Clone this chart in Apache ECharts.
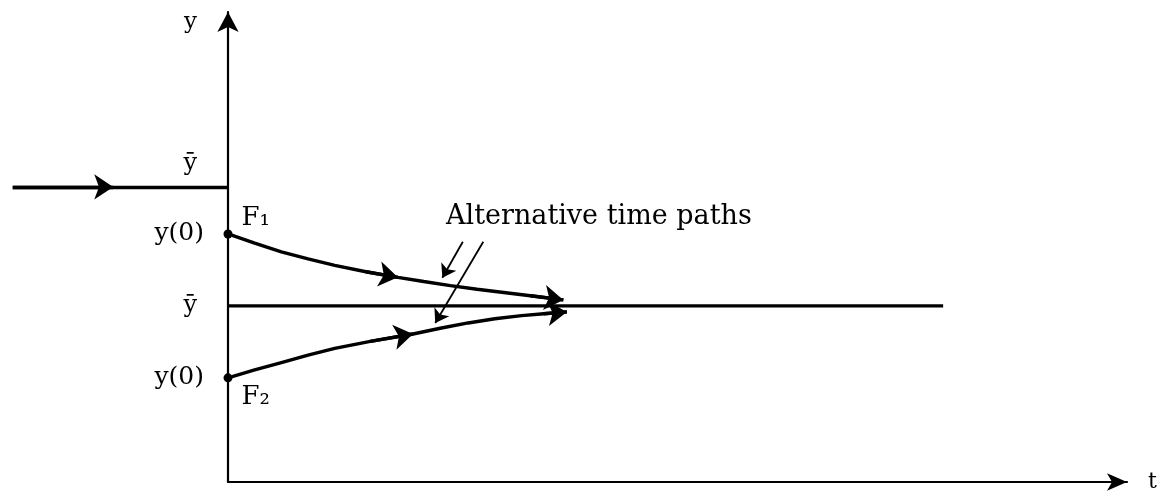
<!DOCTYPE html>
<html><head><meta charset="utf-8">
<script src="https://cdn.jsdelivr.net/npm/echarts@6/dist/echarts.min.js"></script>
<style>html,body{margin:0;padding:0;background:#fff}#c{width:1158px;height:492px}</style>
</head><body><div id="c"></div>
<script>
// ---- data (t, y) ----
const tickValues = [6.40, 5.38, 3.82, 2.26];
const tickLabels = ['ȳ', 'y(0)', 'ȳ', 'y(0)'];
const oldPath = [[-2.42, 6.40], [-1.29, 6.40], [0, 6.40]];
const oldArrowAt = [1];
const newEquilibrium = [[0, 3.82], [8.04, 3.82]];
const upperPath = [[0, 5.38], [0.3, 5.18], [0.6, 4.99], [0.9, 4.84], [1.2, 4.70], [1.55, 4.56], [1.91, 4.44],
                   [2.2, 4.35], [2.5, 4.26], [2.8, 4.18], [3.1, 4.11], [3.4, 4.04], [3.77, 3.95]];
const upperArrowAt = [6, 12];
const lowerPath = [[0, 2.26], [0.3, 2.43], [0.6, 2.59], [0.9, 2.75], [1.2, 2.90], [1.6, 3.05], [2.08, 3.21],
                   [2.4, 3.34], [2.7, 3.45], [3.0, 3.54], [3.3, 3.61], [3.55, 3.65], [3.81, 3.69]];
const lowerArrowAt = [6, 12];
const pointerA = [[2.64, 5.21], [2.41, 4.43]];
const pointerB = [[2.87, 5.21], [2.33, 3.45]];
const startPoints = [[0, 5.38], [0, 2.26]];
const startLabels = ['F₁', 'F₂'];
const annotationPos = [4.17, 5.75];
const annotationText = 'Alternative time paths';
const axisNames = { x: 't', y: 'y' };
const xRange = [0, 10.107];
const yRange = [0, 10.195];

const FONT = 'DejaVu Serif';
const INK = '#000';
const PATH_STYLE = { color: INK, width: 3.4, opacity: 1, type: 'solid' };

function arrowSegs(path, idxs) {
  return idxs.map(i => ({ coords: [path[i - 1], path[i]] }));
}
function pathSeries(path, clip) {
  return {
    type: 'line', data: path, symbol: 'none', showSymbol: false, clip: clip, z: 3, silent: true,
    lineStyle: PATH_STYLE, emphasis: { disabled: true }
  };
}

const chart = echarts.init(document.getElementById('c'), null, { renderer: 'canvas' });
chart.setOption({
  animation: false,
  backgroundColor: '#fff',
  grid: { left: 228, right: 31, top: 12, bottom: 10, containLabel: false, outerBoundsMode: 'none' },
  xAxis: {
    type: 'value', min: xRange[0], max: xRange[1],
    name: axisNames.x, nameLocation: 'end', nameGap: 21,
    nameTextStyle: { fontFamily: FONT, fontSize: 22, color: INK, align: 'left', verticalAlign: 'middle' },
    axisLine: { show: true, onZero: false, symbol: ['none', 'arrow'], symbolSize: [13, 20], lineStyle: { color: INK, width: 2.2 } },
    axisTick: { show: false }, axisLabel: { show: false }, splitLine: { show: false }
  },
  yAxis: {
    type: 'value', min: yRange[0], max: yRange[1],
    name: axisNames.y, nameLocation: 'end', nameGap: -10,
    nameTextStyle: { fontFamily: FONT, fontSize: 23, color: INK, align: 'right', verticalAlign: 'middle', padding: [0, 31, 0, 0] },
    axisLine: { show: true, onZero: false, symbol: ['none', 'arrow'], symbolSize: [16, 20], lineStyle: { color: INK, width: 2.2 } },
    axisTick: { show: false }, splitLine: { show: false },
    axisLabel: {
      show: true, customValues: tickValues, margin: 24, hideOverlap: false,
      fontFamily: FONT, fontSize: 25, color: INK,
      formatter: function (v) {
        let i = tickValues.findIndex(x => Math.abs(x - v) < 1e-6);
        if (i < 0) return '';
        const s = tickLabels[i];
        if (s === 'ȳ') return (i === 0 ? '{hi|' : '{bar|') + s + '}';
        return s;
      },
      rich: {
        hi: { fontFamily: FONT, fontSize: 24, color: INK, padding: [0, 7, 46, 0] },
        bar: { fontFamily: FONT, fontSize: 24, color: INK, padding: [0, 7, 0, 0] }
      }
    }
  },
  series: [
    {
      type: 'lines', coordinateSystem: 'cartesian2d', clip: false, z: 3,
      lineStyle: { color: INK, width: 3.4, opacity: 1, curveness: 0 },
      data: [{ coords: [oldPath[0], oldPath[oldPath.length - 1]] }]
    },
    pathSeries(newEquilibrium, true),
    pathSeries(upperPath, true),
    pathSeries(lowerPath, true),
    {
      type: 'lines', coordinateSystem: 'cartesian2d', clip: false, z: 4,
      symbol: ['none', 'arrow'], symbolSize: [12, 19],
      lineStyle: { color: INK, width: 3.4, opacity: 1, curveness: 0 },
      data: [].concat(arrowSegs(oldPath, oldArrowAt), arrowSegs(upperPath, upperArrowAt), arrowSegs(lowerPath, lowerArrowAt))
    },
    {
      type: 'lines', coordinateSystem: 'cartesian2d', z: 4,
      symbol: ['none', 'arrow'], symbolSize: [8, 13],
      lineStyle: { color: INK, width: 1.8, opacity: 1, curveness: 0 },
      data: [{ coords: pointerA }, { coords: pointerB }]
    },
    {
      type: 'scatter', z: 5, symbolSize: 9, itemStyle: { color: INK, opacity: 1 },
      label: {
        show: true, formatter: p => startLabels[p.dataIndex], position: 'right', distance: 9,
        fontFamily: FONT, fontSize: 26, color: INK, opacity: 1
      },
      data: startPoints.map((p, i) => ({ value: p, label: { offset: [0, i === 0 ? -16 : 19] } }))
    },
    {
      type: 'scatter', z: 5, symbolSize: 0, silent: true, itemStyle: { opacity: 1 },
      label: { show: true, formatter: annotationText, position: 'inside', fontFamily: FONT, fontSize: 27, color: INK, opacity: 1 },
      data: [{ value: annotationPos }]
    }
  ]
});
</script>
</body></html>
